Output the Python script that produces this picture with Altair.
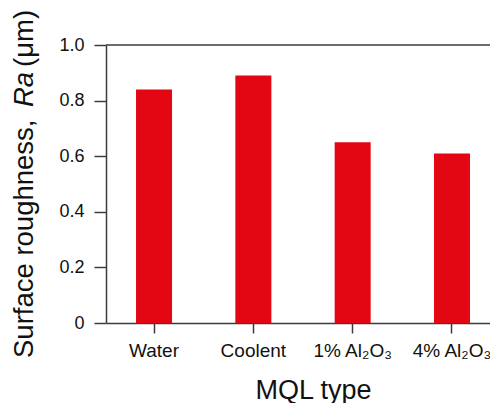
import altair as alt
import pandas as pd

categories = ["Water", "Coolent", "1% Al₂O₃", "4% Al₂O₃"]
values = [0.84, 0.89, 0.65, 0.61]
y_ticks = [0, 0.2, 0.4, 0.6, 0.8, 1.0]

FONT = "Liberation Sans"
AXIS_COLOR = "#3c3c3c"
BAR_COLOR = "#e30613"
W, H = 384, 278

df = pd.DataFrame({"type": categories, "ra": values})

bars = alt.Chart(df).mark_bar(color=BAR_COLOR).encode(
    x=alt.X(
        "type:N",
        sort=categories,
        scale=alt.Scale(paddingInner=0.6375, paddingOuter=0.252, align=0.6),
        axis=alt.Axis(
            title="MQL type",
            titleFont=FONT,
            titleFontSize=27,
            titleFontWeight="normal",
            titleColor="#111",
            titleX=207,
            titleY=75,
            titleAlign="center",
            titleBaseline="alphabetic",
            labelFont=FONT,
            labelFontSize=19,
            labelColor="#111",
            labelAngle=0,
            labelPadding=8,
            tickSize=10,
            tickColor=AXIS_COLOR,
            tickWidth=1.5,
            domainColor=AXIS_COLOR,
            domainWidth=1.5,
        ),
    ),
    y=alt.Y(
        "ra:Q",
        scale=alt.Scale(domain=[0, 1], nice=False),
        axis=alt.Axis(
            title=None,
            values=y_ticks,
            labelExpr="datum.value == 0 ? '0' : format(datum.value, '.1f')",
            labelFont=FONT,
            labelFontSize=18,
            labelColor="#111",
            labelPadding=10,
            tickSize=12,
            tickColor=AXIS_COLOR,
            tickWidth=1.5,
            domainColor=AXIS_COLOR,
            domainWidth=1.5,
            grid=False,
        ),
    ),
)

one = pd.DataFrame({"k": [0]})

top_line = alt.Chart(one).mark_rule(color=AXIS_COLOR, strokeWidth=1.5).encode(
    x=alt.value(0), x2=alt.value(W), y=alt.value(0)
)

TS = 27.5
title_x = -73
t1 = alt.Chart(one).mark_text(
    font=FONT, fontSize=TS, angle=270, align="left", baseline="alphabetic", color="#111"
).encode(x=alt.value(title_x), y=alt.value(313), text=alt.value("Surface roughness,"))
t2 = alt.Chart(one).mark_text(
    font=FONT, fontSize=TS, fontStyle="italic", angle=270, align="left",
    baseline="alphabetic", color="#111"
).encode(x=alt.value(title_x), y=alt.value(62), text=alt.value("Ra"))
t3 = alt.Chart(one).mark_text(
    font=FONT, fontSize=TS, angle=270, align="left", baseline="alphabetic", color="#111"
).encode(x=alt.value(title_x), y=alt.value(22), text=alt.value("(μm)"))

chart = alt.layer(bars, top_line, t1, t2, t3).properties(
    width=W,
    height=H,
    autosize=alt.AutoSizeParams(type="none"),
    padding={"left": 98, "top": 37, "right": 0, "bottom": 80},
    background="white",
).configure_view(stroke=None)

chart.save("out.html", embed_options={"renderer": "svg", "actions": False})
